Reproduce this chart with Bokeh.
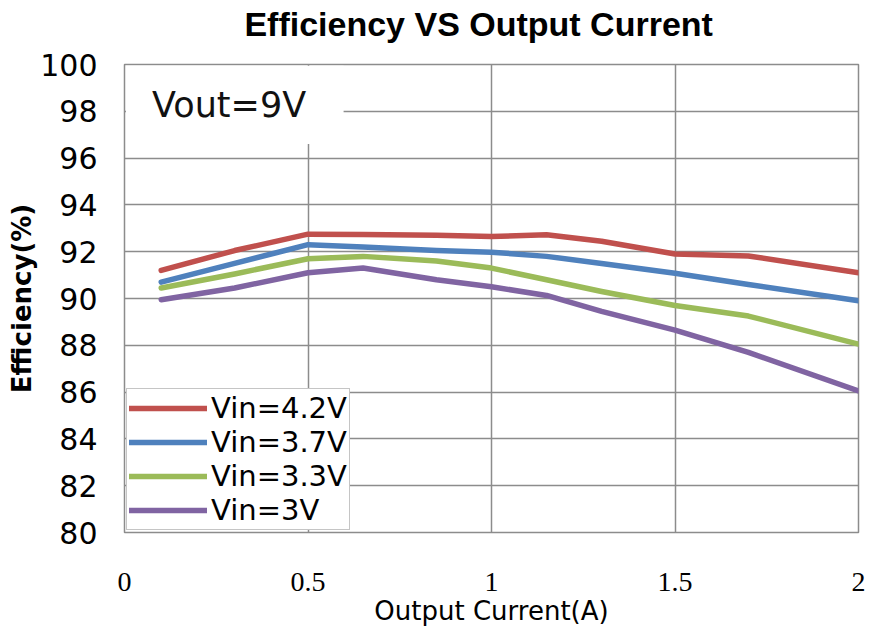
from bokeh.plotting import figure
from bokeh.models import Legend, LegendItem, Label, BoxAnnotation, FixedTicker, LinearAxis
from bokeh.embed import file_html
from bokeh.resources import INLINE

# ---- data ----
current = [0.1, 0.3, 0.5, 0.65, 0.85, 1.0, 1.15, 1.3, 1.5, 1.7, 2.0]
eff_42 = [91.2, 92.05, 92.75, 92.74, 92.7, 92.65, 92.72, 92.45, 91.9, 91.82, 91.1]
eff_37 = [90.7, 91.5, 92.3, 92.2, 92.05, 91.98, 91.8, 91.5, 91.08, 90.6, 89.9]
eff_33 = [90.45, 91.05, 91.7, 91.8, 91.6, 91.3, 90.8, 90.3, 89.7, 89.25, 88.05]
eff_30 = [89.95, 90.45, 91.1, 91.3, 90.8, 90.5, 90.13, 89.45, 88.65, 87.7, 86.05]
series_names = ["Vin=4.2V", "Vin=3.7V", "Vin=3.3V", "Vin=3V"]
series_colors = ["#C0504D", "#4F81BD", "#9BBB59", "#8064A2"]
x_ticks = [0, 0.5, 1, 1.5, 2]
y_ticks = [80, 82, 84, 86, 88, 90, 92, 94, 96, 98, 100]
title_text = "Efficiency VS Output Current"
title_pos = 0.965  # horizontal centre of the title, in x units

p = figure(width=871, height=630, output_backend="svg", toolbar_location=None,
           x_range=(0, 2), y_range=(80, 100),
           min_border_left=124, min_border_right=13, min_border_top=64, min_border_bottom=98)

p.outline_line_color = "#8c8c8c"
p.outline_line_width = 1.5
p.background_fill_color = "white"

p.xgrid.ticker = FixedTicker(ticks=x_ticks)
p.ygrid.ticker = FixedTicker(ticks=y_ticks)
p.xgrid.grid_line_color = "#8c8c8c"
p.ygrid.grid_line_color = "#8c8c8c"
p.xgrid.grid_line_width = 1.5
p.ygrid.grid_line_width = 1.5

p.xaxis.ticker = FixedTicker(ticks=x_ticks)
p.yaxis.ticker = FixedTicker(ticks=y_ticks)
for ax in (p.xaxis[0], p.yaxis[0]):
    ax.axis_line_color = None
    ax.major_tick_line_color = None
    ax.minor_tick_line_color = None
    ax.major_label_text_color = "#000000"
    ax.axis_label_text_color = "#000000"

p.xaxis.major_label_text_font = "Liberation Serif"
p.xaxis.major_label_text_font_size = "28px"
p.xaxis.major_label_standoff = 34
p.xaxis.axis_label = "Output Current(A)"
p.xaxis.axis_label_text_font = "DejaVu Sans"
p.xaxis.axis_label_text_font_size = "26px"
p.xaxis.axis_label_text_font_style = "normal"
p.xaxis.axis_label_standoff = 2

p.yaxis.major_label_text_font = "DejaVu Sans"
p.yaxis.major_label_text_font_size = "30px"
p.yaxis.major_label_standoff = 21
p.yaxis.axis_label = "Efficiency(%)"
p.yaxis.axis_label_text_font = "DejaVu Sans"
p.yaxis.axis_label_text_font_size = "26px"
p.yaxis.axis_label_text_font_style = "bold"
p.yaxis.axis_label_standoff = 0

# chart title: drawn as the single label of a bare axis above the frame
title_axis = LinearAxis(ticker=FixedTicker(ticks=[title_pos]),
                        major_label_overrides={title_pos: title_text})
title_axis.axis_line_color = None
title_axis.major_tick_line_color = None
title_axis.minor_tick_line_color = None
title_axis.major_tick_out = 0
title_axis.major_label_standoff = 22
title_axis.major_label_text_font = "Liberation Sans"
title_axis.major_label_text_font_size = "34px"
title_axis.major_label_text_font_style = "bold"
title_axis.major_label_text_color = "#000000"
p.add_layout(title_axis, "above")

# white box behind the "Vout=9V" note that hides the gridlines there
p.add_layout(BoxAnnotation(left=0.004, right=0.597, bottom=96.6, top=99.95,
                           fill_color="white", fill_alpha=1.0, line_color=None,
                           level="underlay"))
p.add_layout(Label(x=0.075, y=98.25, text="Vout=9V", text_font="DejaVu Sans",
                   text_font_size="35px", text_baseline="middle", text_color="#111111"))

renderers = []
for ys, c in zip([eff_42, eff_37, eff_33, eff_30], series_colors):
    r = p.line(current, ys, line_color=c, line_width=5.5, line_cap="round", line_join="round")
    renderers.append(r)

legend = Legend(items=[LegendItem(label=n, renderers=[r]) for n, r in zip(series_names, renderers)],
                location=(2, 2), orientation="vertical")
legend.label_text_font = "DejaVu Sans"
legend.label_text_font_size = "29px"
legend.label_text_color = "#000000"
legend.label_height = 30
legend.glyph_height = 30
legend.glyph_width = 78
legend.spacing = 0
legend.padding = 2
legend.margin = 0
legend.label_standoff = 4
legend.border_line_color = "#8c8c8c"
legend.border_line_width = 1.5
legend.background_fill_alpha = 1.0
p.add_layout(legend)

open("out.html", "w").write(file_html(p, INLINE))
